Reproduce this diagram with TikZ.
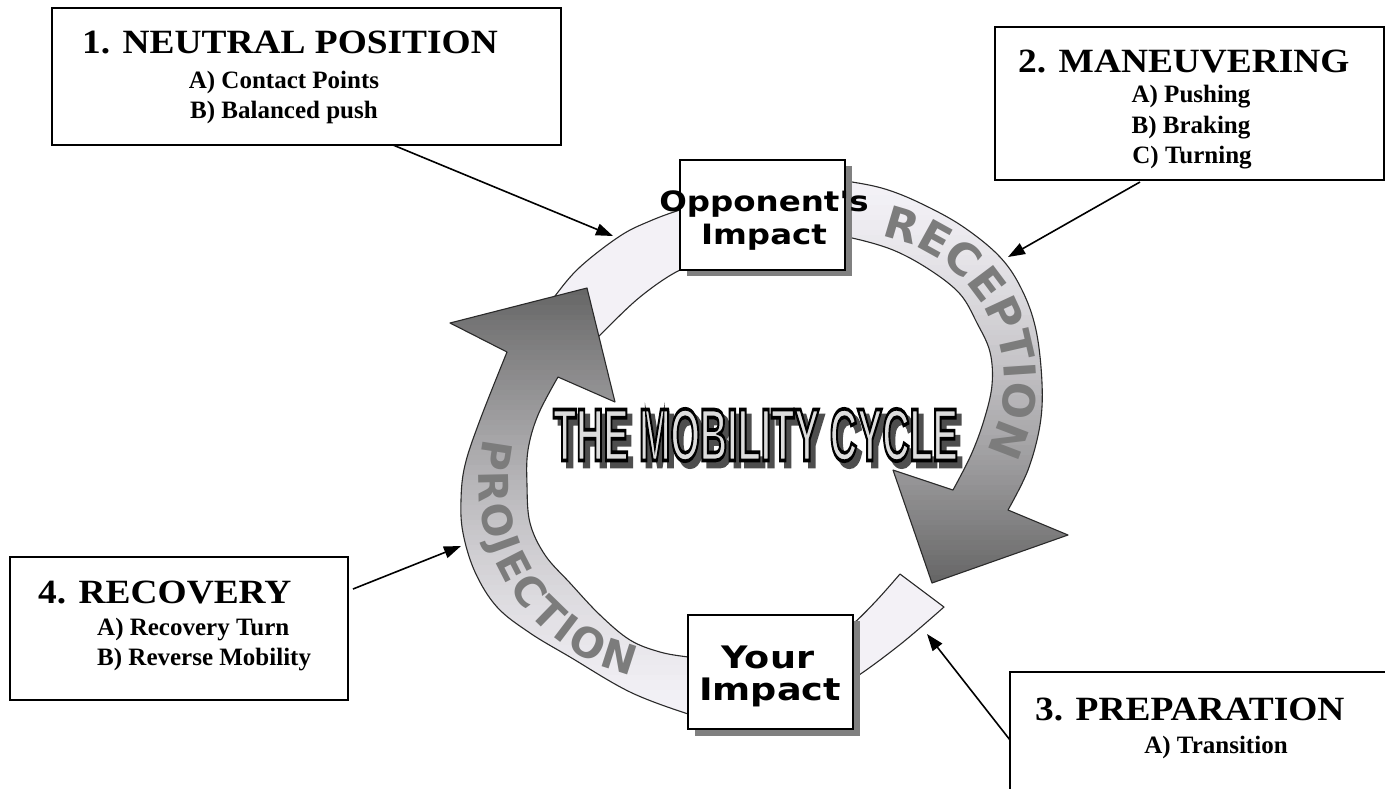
\documentclass[tikz,border=0pt]{standalone}
\usepackage{graphicx}
\usepackage{fontspec}
\setmainfont{Liberation Serif}
\newfontfamily\dvsans{DejaVu Sans}
\newfontfamily\ttlfontfb{Liberation Sans}[BoldFeatures={FakeBold=5}]
\usetikzlibrary{arrows.meta,decorations.text}
\definecolor{ringlight}{HTML}{F3F1F6}
\definecolor{ringdark}{HTML}{646464}
\definecolor{ringline}{HTML}{2A2A2A}
\definecolor{shadowgray}{HTML}{808080}
\definecolor{lettergray}{HTML}{7C7C7C}
\definecolor{titleface}{HTML}{DCDCDC}
\definecolor{titleshadow}{HTML}{4E4E4E}
\newcommand\recfont{\dvsans\bfseries\fontsize{44}{44}\selectfont}
\newcommand\projfont{\dvsans\bfseries\fontsize{41}{41}\selectfont}
\newcommand\mobtitle[1]{\scalebox{0.51}[1]{#1\ttlfontfb\bfseries\fontsize{74}{74}\selectfont THE MOBILITY CYCLE}}
\def\recshape{(830,-180) -- plot[smooth, tension=0.6] coordinates {(830,-180) (852,-182) (885,-189) (920,-203) (962,-226) (1000,-257) (1022,-290) (1036,-330) (1042,-383) (1040,-425) (1028,-470) (1008,-510)} -- (1068,-535) -- (932,-583) -- (893,-470) -- (953,-490) -- plot[smooth, tension=0.6] coordinates {(953,-490) (971,-455) (984,-420) (992,-385) (990,-352) (977,-323) (960,-294) (930,-270) (893,-250) (852,-238) (830,-236)} -- cycle}
\def\projshape{(700,-716) -- plot[smooth, tension=0.6] coordinates {(700,-716) (688,-714) (630,-692) (570,-657) (530,-633) (497,-607) (475,-572) (463,-533) (461,-500) (465,-465) (480,-420) (507,-352)} -- (450,-323) -- (587,-288) -- (615,-402) -- (558,-377) -- plot[smooth, tension=0.6] coordinates {(558,-377) (538,-415) (528,-450) (527,-485) (530,-523) (545,-555) (570,-583) (600,-615) (630,-640) (660,-652) (688,-657) (700,-658)} -- cycle}
\def\lighttl{(535,-325) -- plot[smooth, tension=0.6] coordinates {(535,-325) (555,-296) (580,-267) (620,-236) (650,-221) (680,-210) (705,-204)} -- (705,-266) -- plot[smooth, tension=0.6] coordinates {(705,-266) (680,-270) (640,-297) (599,-336) (585,-350)} -- cycle}
\def\lightbr{(840,-684) -- plot[smooth, tension=0.6] coordinates {(840,-684) (859,-675) (902,-643) (944,-607)} -- (900,-574) -- plot[smooth, tension=0.6] coordinates {(900,-574) (877,-600) (854,-623) (840,-632)} -- cycle}
\begin{document}
\begin{tikzpicture}[x=1pt,y=1pt,
  bigbox/.style={draw=black, line width=2pt, fill=white, inner sep=0pt},
  smallbox/.style={draw=black, line width=1.5pt, fill=white, inner sep=0pt},
  boxtitle/.style={inner sep=0pt, anchor=base west, font=\bfseries\fontsize{34}{34}\selectfont},
  boxsub/.style={inner sep=0pt, anchor=base, font=\bfseries\fontsize{25}{25}\selectfont},
  boxsubl/.style={inner sep=0pt, anchor=base west, font=\bfseries\fontsize{25}{25}\selectfont},
  ringedge/.style={draw=ringline, line width=1.1pt, line join=round},
  conn/.style={draw=black, line width=1.6pt, -{Triangle[length=17pt,width=12pt]}},
  impact/.style={inner sep=0pt, anchor=base, font=\dvsans\bfseries},
  titlebase/.style={inner sep=0pt, anchor=center}
]
\path[use as bounding box] (0,0) rectangle (1385,-788);
\clip (0,0) rectangle (1385,-788);
\fill[white] (0,0) rectangle (1385,-788);

% light ring segments
\fill[ringlight] \lighttl;
\draw[ringedge] \lighttl;
\fill[ringlight] \lightbr;
\draw[ringedge] \lightbr;

% RECEPTION arrow with gradient
\begin{scope}
  \clip \recshape;
  \foreach \yy in {170,175,...,595} {
    \pgfmathtruncatemacro\p{100*(max(0,min(1,(\yy+2.5-181)/402)))^1.4}
    \fill[ringdark!\p!ringlight] (800,-\yy) rectangle (1090,-\yy-5.6);
  }
\end{scope}
\draw[ringedge] \recshape;

% PROJECTION arrow with gradient
\begin{scope}
  \clip \projshape;
  \foreach \yy in {280,285,...,725} {
    \pgfmathtruncatemacro\p{100*(max(0,min(1,(716-\yy-2.5)/428)))^1.4}
    \fill[ringdark!\p!ringlight] (430,-\yy) rectangle (720,-\yy-5.6);
  }
\end{scope}
\draw[ringedge] \projshape;

% curved labels
\path[decorate, decoration={text along path, text={|\recfont|RECEPTION}, text color=lettergray}]
  ([shift={(80:148)}]856,-382) arc[start angle=80, end angle=-40, radius=148];
\path[decorate, decoration={text along path, text={|\projfont|PROJECTION}, text align={fit to path}, text color=lettergray}]
  ([shift={(167:197)}]676,-483) arc[start angle=167, end angle=257, radius=197];

% impact boxes
\fill[shadowgray] (687,-166) rectangle (852,-276);
\node[smallbox, minimum width=165pt, minimum height=110pt] (opp) at (762.5,-215) {};
\node[impact] (opp1) at (764,-211) {\fontsize{28}{28}\selectfont\scalebox{1.16}[1]{Opponent's}};
\node[impact] (opp2) at (764,-244) {\fontsize{28}{28}\selectfont\scalebox{1.16}[1]{Impact}};

\fill[shadowgray] (695,-621) rectangle (860,-736);
\node[smallbox, minimum width=165pt, minimum height=114pt] (your) at (770.5,-672) {};
\node[impact] (your1) at (768,-668) {\fontsize{31}{31}\selectfont\scalebox{1.18}[1]{Your}};
\node[impact] (your2) at (770,-700) {\fontsize{31}{31}\selectfont\scalebox{1.18}[1]{Impact}};

% title: shadow, then face with black stroked outline
\node[titlebase, text=titleshadow] (tsh) at (760.5,-441) {\mobtitle{}};
\node[titlebase, text=titleface] (title) at (755.5,-435) {\mobtitle{\special{pdf:literal direct 0 0 0 RG}}};

% big boxes
\node[bigbox, minimum width=509pt, minimum height=137pt] (b1) at (306.5,-76.5) {};
\node[boxtitle] (b1t) at (82,-53) {\scalebox{1.1}[1]{1. NEUTRAL POSITION}};
\node[boxsub] (b1a) at (284,-88) {A) Contact Points};
\node[boxsub] (b1b) at (284,-118) {B) Balanced push};

\node[bigbox, minimum width=389pt, minimum height=153pt] (b2) at (1189.5,-103.5) {};
\node[boxtitle] (b2t) at (1018,-72) {\scalebox{1.1}[1]{2. MANEUVERING}};
\node[boxsub] (b2a) at (1191,-102) {A) Pushing};
\node[boxsub] (b2b) at (1191,-133) {B) Braking};
\node[boxsub] (b2c) at (1192,-163) {C) Turning};

\node[bigbox, minimum width=390pt, minimum height=136pt] (b3) at (1205,-740) {};
\node[boxtitle] (b3t) at (1035,-720) {\scalebox{1.1}[1]{3. PREPARATION}};
\node[boxsub] (b3a) at (1216,-753) {A) Transition};

\node[bigbox, minimum width=338pt, minimum height=143pt] (b4) at (179,-628.5) {};
\node[boxtitle] (b4t) at (38,-603) {\scalebox{1.1}[1]{4. RECOVERY}};
\node[boxsubl] (b4a) at (97,-635) {A) Recovery Turn};
\node[boxsubl] (b4b) at (97,-665) {B) Reverse Mobility};

% connectors
\coordinate (s1) at (393,-145);
\coordinate (t1) at (613,-236);
\coordinate (s2) at (1140,-182);
\coordinate (t2) at (1008,-257);
\coordinate (s3) at (1010,-740);
\coordinate (t3) at (927,-634);
\coordinate (s4) at (353,-589);
\coordinate (t4) at (461,-546);
\draw[conn] (s1) -- (t1);
\draw[conn] (s2) -- (t2);
\draw[conn] (s3) -- (t3);
\draw[conn] (s4) -- (t4);
\end{tikzpicture}
\end{document}
